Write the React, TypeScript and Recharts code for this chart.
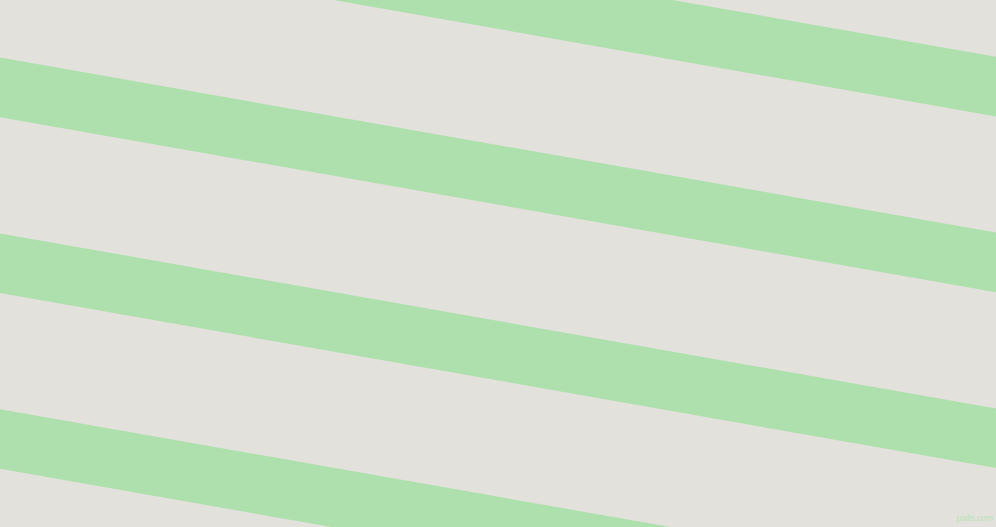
import React from "react";
import { ComposedChart, Area, XAxis, YAxis } from "recharts";

const xPositions = [0, 996];
const stripeTopLeft = [-118.2, 57.6, 233.4, 409.2];
const stripeTopRight = [56.8, 232.6, 408.4, 584.2];
const stripeThickness = 59.6;
const stripeKeys = ["s0", "s1", "s2", "s3"];

const data = xPositions.map((x, i) => {
  const row: Record<string, number | number[]> = { x };
  const tops = i === 0 ? stripeTopLeft : stripeTopRight;
  stripeKeys.forEach((k, j) => {
    row[k] = [tops[j], tops[j] + stripeThickness];
  });
  return row;
});

export default function App() {
  return (
    <div
      style={{
        position: "fixed",
        left: 0,
        top: 0,
        width: 996,
        height: 527,
        background: "#e3e1dc",
        overflow: "hidden",
      }}
    >
      <ComposedChart width={996} height={527} data={data} margin={{ top: 0, right: 0, bottom: 0, left: 0 }}>
        <XAxis type="number" dataKey="x" domain={[0, 996]} hide allowDataOverflow />
        <YAxis type="number" domain={[0, 527]} reversed hide allowDataOverflow />
        {stripeKeys.map((k) => (
          <Area
            key={k}
            type="linear"
            dataKey={k}
            fill="#aee0ad"
            fillOpacity={1}
            stroke="none"
            isAnimationActive={false}
            dot={false}
            activeDot={false}
          />
        ))}
      </ComposedChart>
      <div
        style={{
          position: "absolute",
          right: 3,
          bottom: 4,
          fontFamily: "Liberation Sans, sans-serif",
          fontSize: 9,
          letterSpacing: -0.3,
          lineHeight: "10px",
          color: "#b9e3b6",
        }}
      >
        pixlis.com
      </div>
    </div>
  );
}
